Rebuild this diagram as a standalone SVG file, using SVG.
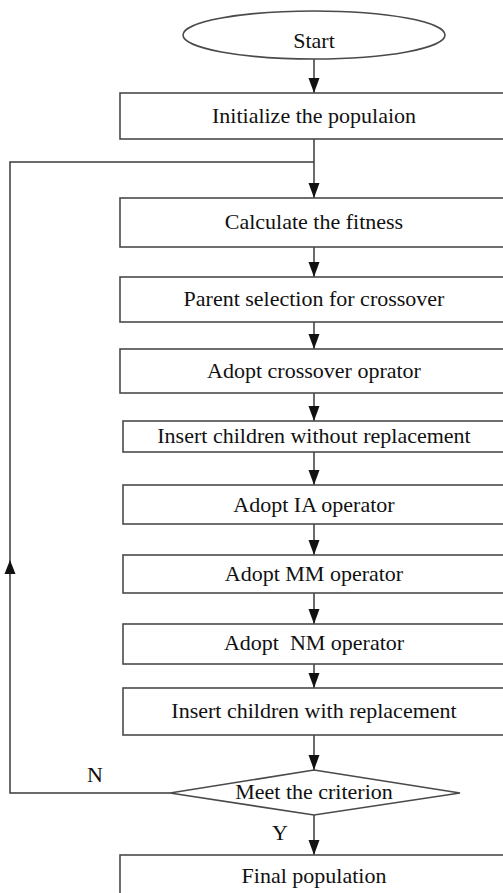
<svg xmlns="http://www.w3.org/2000/svg" width="503" height="893" viewBox="0 0 503 893">
<defs>
<style>
.n{fill:#fff;stroke:#4a4a4a;stroke-width:1.6}
.t{font-family:"Liberation Serif","Times New Roman",serif;font-size:22px;fill:#111;text-anchor:middle}
.c{fill:none;stroke:#3a3a3a;stroke-width:1.5}
</style>
<marker id="ad" markerUnits="userSpaceOnUse" markerWidth="15" markerHeight="12" refX="15" refY="6" orient="auto" viewBox="0 0 15 12">
<path d="M0,0.5 L15,6 L0,11.5 Z" fill="#111"/>
</marker>
</defs>
<rect width="503" height="893" fill="#fff"/>
<g id="connectors">
<path class="c" d="M314,59 V93" marker-end="url(#ad)"/>
<path class="c" d="M314,139 V198" marker-end="url(#ad)"/>
<path class="c" d="M314,247 V277" marker-end="url(#ad)"/>
<path class="c" d="M314,322 V349" marker-end="url(#ad)"/>
<path class="c" d="M314,393 V421" marker-end="url(#ad)"/>
<path class="c" d="M314,452 V485" marker-end="url(#ad)"/>
<path class="c" d="M314,524 V555" marker-end="url(#ad)"/>
<path class="c" d="M314,593 V624" marker-end="url(#ad)"/>
<path class="c" d="M314,664 V688" marker-end="url(#ad)"/>
<path class="c" d="M314,735 V770" marker-end="url(#ad)"/>
<path class="c" d="M314,815 V855" marker-end="url(#ad)"/>
<path class="c" d="M170,793 H10 V162 H314"/>
<path d="M4.5,574 L15.5,574 L10,560 Z" fill="#111"/>
<text class="t" x="95" y="782">N</text>
<text class="t" x="280" y="840">Y</text>
</g>
<g id="start">
<ellipse class="n" cx="314" cy="35" rx="131" ry="24"/>
<text class="t" x="314" y="48">Start</text>
</g>
<g id="init">
<rect class="n" x="120" y="93" width="392" height="46"/>
<text class="t" x="314" y="123">Initialize the populaion</text>
</g>
<g id="fitness">
<rect class="n" x="120" y="198" width="392" height="49"/>
<text class="t" x="314" y="229">Calculate the fitness</text>
</g>
<g id="parent">
<rect class="n" x="120" y="277" width="392" height="45"/>
<text class="t" x="314" y="306">Parent selection for crossover</text>
</g>
<g id="crossover">
<rect class="n" x="120" y="349" width="392" height="44"/>
<text class="t" x="314" y="378">Adopt crossover oprator</text>
</g>
<g id="insert-without">
<rect class="n" x="123" y="421" width="392" height="31"/>
<text class="t" x="314" y="443">Insert children without replacement</text>
</g>
<g id="ia">
<rect class="n" x="123" y="485" width="392" height="39"/>
<text class="t" x="314" y="512">Adopt IA operator</text>
</g>
<g id="mm">
<rect class="n" x="123" y="555" width="392" height="38"/>
<text class="t" x="314" y="581">Adopt MM operator</text>
</g>
<g id="nm">
<rect class="n" x="123" y="624" width="392" height="40"/>
<text class="t" x="314" y="650" xml:space="preserve">Adopt  NM operator</text>
</g>
<g id="insert-with">
<rect class="n" x="123" y="688" width="392" height="47"/>
<text class="t" x="314" y="718">Insert children with replacement</text>
</g>
<g id="criterion">
<polygon class="n" points="314,770 460,793 314,815 170,793"/>
<text class="t" x="314" y="799">Meet the criterion</text>
</g>
<g id="final">
<rect class="n" x="120" y="855" width="392" height="50"/>
<text class="t" x="314" y="883">Final population</text>
</g>
</svg>
